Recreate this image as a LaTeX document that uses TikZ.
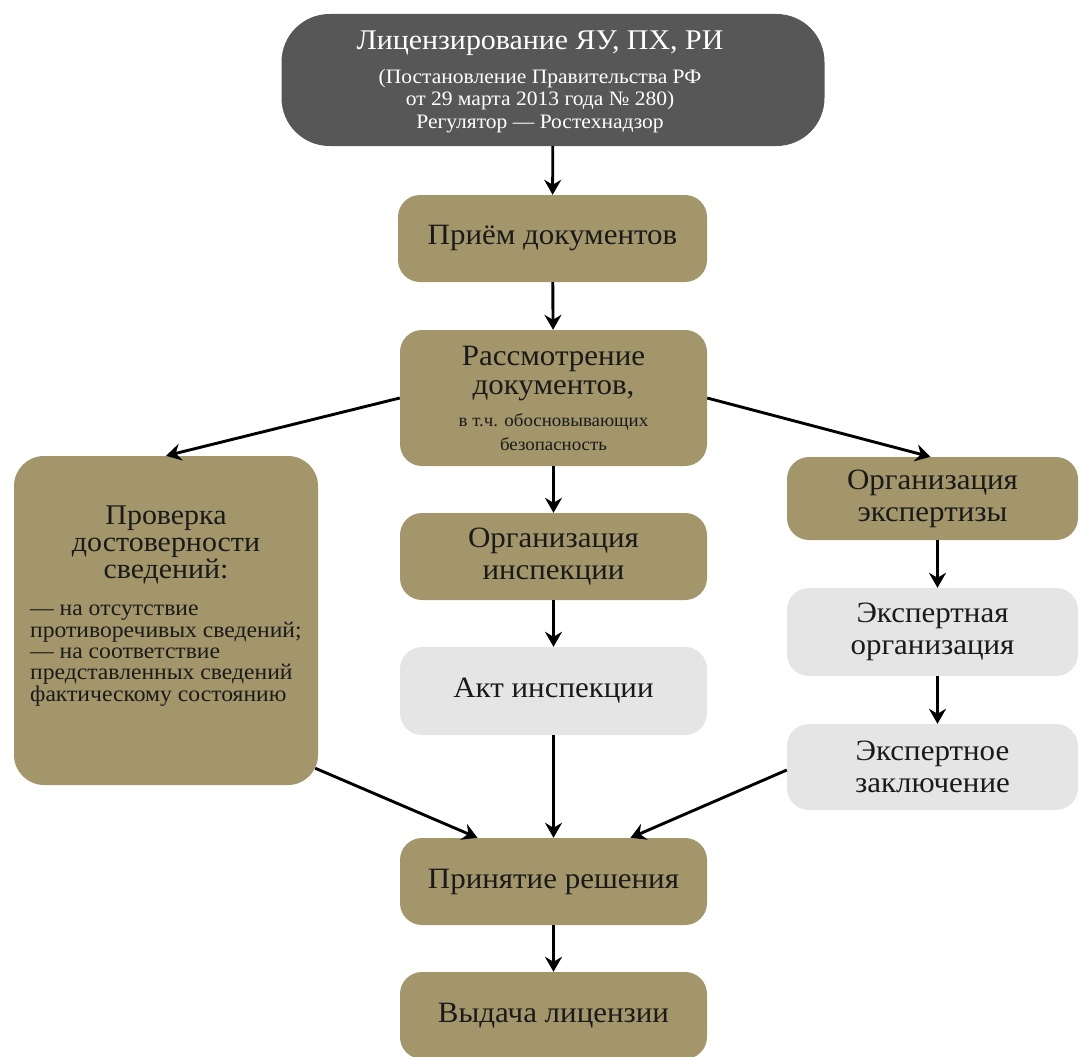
\documentclass[tikz,border=0pt]{standalone}
\usepackage{fontspec}
\setmainfont{Liberation Serif}[FakeStretch=1.05]
\usetikzlibrary{arrows.meta,calc}
\definecolor{olive}{HTML}{A3966B}
\definecolor{darkg}{HTML}{575757}
\definecolor{lightg}{HTML}{E5E5E5}
\definecolor{txt}{HTML}{1A1A1A}
\newcommand\fsz[2]{\fontsize{#1}{#2}\selectfont\lineskiplimit=-30pt\lineskip=0pt\relax}
\tikzset{
  box/.style={rounded corners=22pt, inner sep=0pt, align=center, text=txt,
    font=\fsz{29.5}{32}},
  olivebox/.style={box, fill=olive},
  greybox/.style={box, fill=lightg},
  arr/.style={line width=2.9pt, draw=black, -{Stealth[length=15pt,width=17pt,inset=5pt]}},
}
\begin{document}
\begin{tikzpicture}[x=1pt,y=1pt]
\useasboundingbox (0,0) rectangle (1082,-1057);
% top
\node[box, fill=darkg, rounded corners=48pt, minimum width=543pt, minimum height=132pt] (top) at (553,-80) {};
\node[align=center, text=white, inner sep=0pt, font=\fsz{20.5}{22.5}] (toptext) at (540,-82)
  {\fsz{28.5}{22.5}Лицензирование ЯУ, ПХ, РИ\\[11pt]
   (Постановление Правительства РФ\\от 29 марта 2013 года № 280)\\Регулятор — Ростехнадзор};
\node[olivebox, minimum width=309pt, minimum height=87pt] (priem) at (552.5,-238.5) {Приём документов};
\node[olivebox, minimum width=307pt, minimum height=136pt, font=\fsz{18}{24}] (rass) at (553.5,-398)
  {\fsz{29.5}{24}Рассмотрение\\[5pt]\fsz{29.5}{24}документов,\\[8pt]в т.ч. обосновывающих\\безопасность};
\node[olivebox, rounded corners=30pt, minimum width=304pt, minimum height=329pt] (prov) at (166,-620.5) {};
\node[align=center, text=txt, font=\fsz{28.5}{27}, anchor=base] (provhead) at (166,-578) {Проверка\\достоверности\\сведений:};
\node[align=left, text=txt, font=\fsz{22.5}{21.3}, anchor=base west, inner sep=0pt] (provlist) at (30,-701)
  {— на отсутствие\\противоречивых сведений;\\— на соответствие\\представленных сведений\\фактическому состоянию};
\node[olivebox, minimum width=307pt, minimum height=87pt] (orgins) at (553.5,-556.5) {Организация\\инспекции};
\node[greybox, minimum width=307pt, minimum height=88pt] (akt) at (553.5,-691) {Акт инспекции};
\node[olivebox, minimum width=291pt, minimum height=83pt] (orgexp) at (932.5,-498.5) {Организация\\экспертизы};
\node[greybox, minimum width=291pt, minimum height=88pt] (eorg) at (932.5,-632) {Экспертная\\организация};
\node[greybox, minimum width=291pt, minimum height=86pt] (ezakl) at (932.5,-767) {Экспертное\\заключение};
\node[olivebox, minimum width=307pt, minimum height=87pt] (prin) at (553.5,-881.5) {Принятие решения};
\node[olivebox, minimum width=307pt, minimum height=87pt] (vyd) at (553.5,-1015.5) {Выдача лицензии};
% arrows
\draw[arr] (top) -- (priem);
\draw[arr] (priem) -- (rass);
\draw[arr] (rass.west) -- (prov.north);
\draw[arr] (rass.east) -- ([xshift=-2pt]orgexp.north);
\draw[arr] (rass) -- (orgins);
\draw[arr] (orgins) -- (akt);
\draw[arr] (akt) -- (prin);
\draw[arr] ([xshift=-3pt,yshift=17pt]prov.south east) -- ([xshift=-76pt]prin.north);
\draw[arr] ([yshift=-3pt]ezakl.west) -- ([xshift=77pt]prin.north);
\draw[arr] ([xshift=5pt]orgexp.south) -- ([xshift=5pt]eorg.north);
\draw[arr] ([xshift=5pt]eorg.south) -- ([xshift=5pt]ezakl.north);
\draw[arr] (prin) -- (vyd);
\end{tikzpicture}
\end{document}
